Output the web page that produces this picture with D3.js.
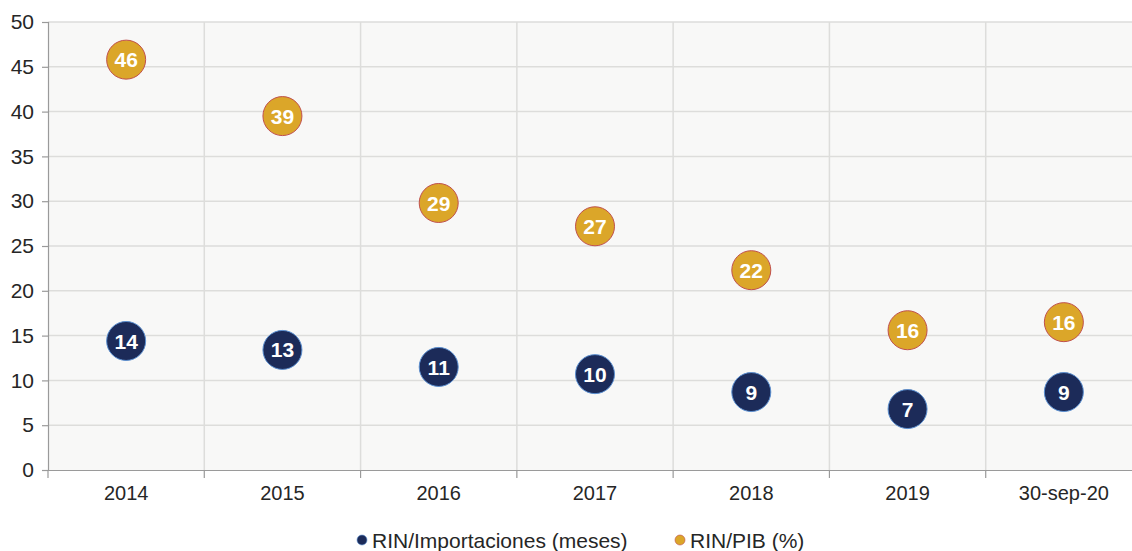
<!DOCTYPE html>
<html>
<head>
<meta charset="utf-8">
<script src="https://cdn.jsdelivr.net/npm/d3@7"></script>
<style>
  body { margin: 0; background: #ffffff; }
  svg { display: block; font-family: "Liberation Sans", Arial, sans-serif; }
</style>
</head>
<body>
<div id="vis"></div>
<script>
// Datos
const PERIODOS = ["2014", "2015", "2016", "2017", "2018", "2019", "30-sep-20"];
const RIN_IMPORTACIONES = [14.4, 13.4, 11.5, 10.7, 8.7, 6.8, 8.7];
const RIN_PIB = [45.8, 39.5, 29.8, 27.2, 22.3, 15.6, 16.5];
const ETIQ_IMPORTACIONES = ["14", "13", "11", "10", "9", "7", "9"];
const ETIQ_PIB = ["46", "39", "29", "27", "22", "16", "16"];
const TICKS_Y = [0, 5, 10, 15, 20, 25, 30, 35, 40, 45, 50];
const SERIES = ["RIN/Importaciones (meses)", "RIN/PIB (%)"];

const WIDTH = 1132;
const HEIGHT = 551;
const MARGIN = { top: 22, bottom: 81, left: 48, right: -10 };

const SVG = d3.select("#vis").append("svg")
    .attr("width", WIDTH)
    .attr("height", HEIGHT);

const escalaX = d3.scaleBand()
    .domain(PERIODOS)
    .range([MARGIN.left, WIDTH - MARGIN.right]);

const escalaY = d3.scaleLinear()
    .domain([0, 50])
    .range([HEIGHT - MARGIN.bottom, MARGIN.top]);

// fondo del area de grafico
SVG.append("rect")
    .attr("x", MARGIN.left)
    .attr("y", MARGIN.top)
    .attr("width", WIDTH - MARGIN.right - MARGIN.left)
    .attr("height", escalaY(0) - MARGIN.top)
    .attr("fill", "#f8f8f7");

// lineas horizontales
SVG.append("g")
    .selectAll("line")
    .data(TICKS_Y.filter(d => d > 0))
    .join("line")
    .attr("x1", MARGIN.left)
    .attr("x2", WIDTH)
    .attr("y1", d => escalaY(d))
    .attr("y2", d => escalaY(d))
    .attr("stroke", "#dddddb")
    .attr("stroke-width", 1.5);

// lineas verticales entre categorias
SVG.append("g")
    .selectAll("line")
    .data(PERIODOS.slice(1))
    .join("line")
    .attr("x1", d => escalaX(d))
    .attr("x2", d => escalaX(d))
    .attr("y1", MARGIN.top)
    .attr("y2", escalaY(0))
    .attr("stroke", "#dddddb")
    .attr("stroke-width", 1.5);

// eje Y
const ejeY = SVG.append("g")
    .attr("transform", `translate(${MARGIN.left},0)`)
    .call(d3.axisLeft(escalaY).tickValues(TICKS_Y).tickSize(6).tickPadding(8));
ejeY.select(".domain").attr("stroke", "#9a9a9a").attr("stroke-width", 1.2);
ejeY.selectAll(".tick line").attr("stroke", "#9a9a9a").attr("stroke-width", 1.2);
ejeY.selectAll(".tick text")
    .attr("fill", "#262626")
    .style("font-size", "21px")
    .style("font-family", "Liberation Sans, Arial, sans-serif");

// eje X
const ejeX = SVG.append("g")
    .attr("transform", `translate(0,${escalaY(0)})`)
    .call(d3.axisBottom(escalaX).tickSize(0).tickPadding(16));
ejeX.select(".domain").attr("stroke", "#9a9a9a").attr("stroke-width", 1.2);
ejeX.selectAll(".tick text")
    .attr("fill", "#262626")
    .style("font-size", "20px")
    .style("font-family", "Liberation Sans, Arial, sans-serif");

// marcas entre categorias en el eje X
ejeX.append("g")
    .selectAll("line")
    .data(PERIODOS)
    .join("line")
    .attr("x1", d => escalaX(d))
    .attr("x2", d => escalaX(d))
    .attr("y1", 0)
    .attr("y2", 8)
    .attr("stroke", "#9a9a9a")
    .attr("stroke-width", 1.2);

const centro = d => escalaX(d) + escalaX.bandwidth() / 2;
const RADIO = 19.5;

function dibujarSerie(valores, etiquetas, relleno, borde) {
    const datos = PERIODOS.map((p, i) => ({ p, v: valores[i], t: etiquetas[i] }));
    const g = SVG.append("g");
    g.selectAll("circle")
        .data(datos)
        .join("circle")
        .attr("cx", d => centro(d.p))
        .attr("cy", d => escalaY(d.v))
        .attr("r", RADIO)
        .attr("fill", relleno)
        .attr("stroke", borde)
        .attr("stroke-width", 1);
    g.selectAll("text")
        .data(datos)
        .join("text")
        .attr("x", d => centro(d.p))
        .attr("y", d => escalaY(d.v))
        .attr("dy", "0.36em")
        .attr("text-anchor", "middle")
        .attr("fill", "#ffffff")
        .style("font-size", "21px")
        .style("font-weight", "bold")
        .text(d => d.t);
}

dibujarSerie(RIN_IMPORTACIONES, ETIQ_IMPORTACIONES, "#1c2b59", "#5b8fd0");
dibujarSerie(RIN_PIB, ETIQ_PIB, "#dba629", "#c0504d");

// leyenda
const leyenda = [
    { nombre: SERIES[0], color: "#1c2b59", borde: "#5b8fd0", x: 362 },
    { nombre: SERIES[1], color: "#dba629", borde: "#c0504d", x: 680 }
];
const gLeyenda = SVG.append("g")
    .selectAll("g")
    .data(leyenda)
    .join("g")
    .attr("transform", d => `translate(${d.x},540)`);
gLeyenda.append("circle")
    .attr("r", 5)
    .attr("fill", d => d.color)
    .attr("stroke", d => d.borde)
    .attr("stroke-width", 0.6);
gLeyenda.append("text")
    .attr("x", 10)
    .attr("dy", "0.36em")
    .attr("fill", "#262626")
    .style("font-size", "21px")
    .text(d => d.nombre);
</script>
</body>
</html>
